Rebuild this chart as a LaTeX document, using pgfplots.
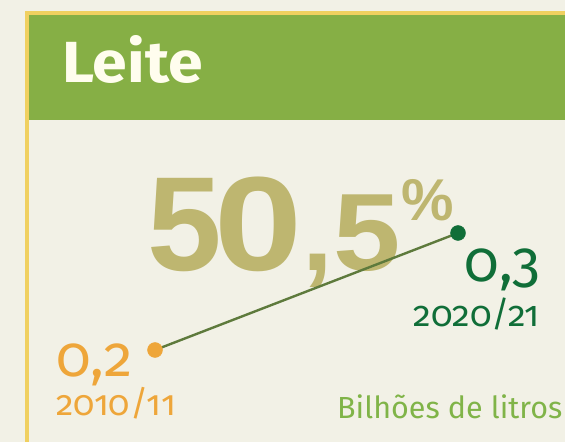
\documentclass[border=0pt]{standalone}
\usepackage{fontspec}
\usepackage{pgfplots}
\pgfplotsset{compat=1.18}
\setmainfont{Fira Sans}
\newfontfamily\arialf{Liberation Sans}
\newfontfamily\firaf{Fira Sans}
\newfontfamily\onumf{Fira Sans}[Numbers={OldStyle,Proportional}]
\definecolor{bg}{RGB}{242,241,230}
\definecolor{hdr}{RGB}{134,175,69}
\definecolor{gold}{RGB}{240,208,96}
\definecolor{khaki}{RGB}{190,182,112}
\definecolor{lin}{RGB}{94,122,60}
\definecolor{dkg}{RGB}{16,110,56}
\definecolor{org}{RGB}{238,166,58}
\definecolor{lgr}{RGB}{128,180,72}
\definecolor{wht}{RGB}{255,253,238}
\begin{document}
\begin{tikzpicture}[x=1pt,y=1pt]
\useasboundingbox (0,0) rectangle (565,442);
\fill[bg] (0,0) rectangle (565,442);
\fill[gold] (25,0) rectangle (29,431);
\fill[gold] (25,427) rectangle (565,431);
\fill[hdr] (29,322) rectangle (565,427);
\node[anchor=base west, inner sep=0, text=wht] at (62,359) {\scalebox{1.08}[1]{\firaf\bfseries\fontsize{58}{58}\selectfont Leite}};
% big percentage
\node[anchor=base west, inner sep=0, text=khaki] at (147,171) {\arialf\bfseries\fontsize{134}{134}\selectfont 5};
\node[anchor=base west, inner sep=0, text=khaki] at (214,171) {\scalebox{1.18}[1]{\arialf\bfseries\fontsize{134}{134}\selectfont 0}};
\node[anchor=base west, inner sep=0, text=khaki] at (302,171) {\arialf\bfseries\fontsize{110}{110}\selectfont ,};
\node[anchor=base west, inner sep=0, text=khaki] at (333,171) {\scalebox{1.1}[1]{\arialf\bfseries\fontsize{110}{110}\selectfont 5}};
\node[anchor=base west, inner sep=0, text=khaki] at (401,221) {\arialf\bfseries\fontsize{59}{59}\selectfont\%};
\begin{axis}[at={(155pt,92pt)}, anchor=south west, scale only axis,
  width=303pt, height=117pt, xmin=2010, xmax=2020, ymin=0.2, ymax=0.3,
  axis lines=none, clip=false, enlargelimits=false]
\addplot[lin, line width=2.4pt, mark=none] coordinates {(2010,0.2) (2020,0.3)};
\addplot[only marks, mark=*, mark size=7.5pt, color=org] coordinates {(2010,0.2)};
\addplot[only marks, mark=*, mark size=7.5pt, color=dkg] coordinates {(2020,0.3)};
\end{axis}
\node[anchor=base west, inner sep=0, text=org] at (56,65) {\onumf\fontsize{57}{57}\selectfont 0,2};
\node[anchor=base west, inner sep=0, text=org] at (56,27) {\onumf\fontsize{35}{35}\selectfont 2010/11};
\node[anchor=base east, inner sep=0, text=dkg] at (541,160) {\onumf\fontsize{57}{57}\selectfont 0,3};
\node[anchor=base east, inner sep=0, text=dkg] at (540,115) {\onumf\fontsize{35.5}{35.5}\selectfont 2020/21};
\node[anchor=base west, inner sep=0, text=lgr] at (337,24) {\firaf\fontsize{30.5}{30.5}\selectfont Bilhões de litros};
\end{tikzpicture}
\end{document}
